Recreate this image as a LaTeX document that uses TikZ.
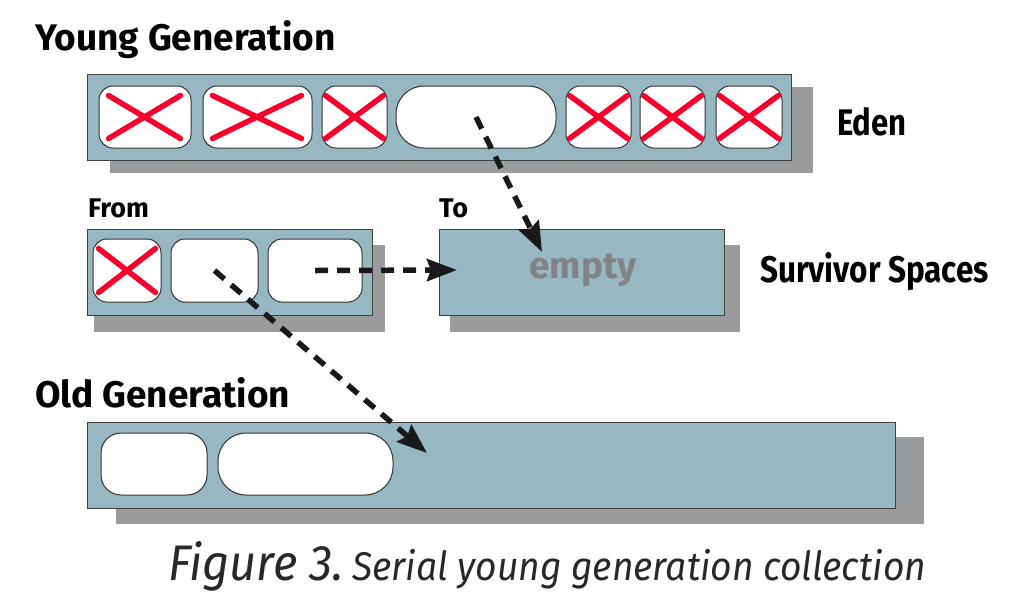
\documentclass[tikz,border=0pt]{standalone}
\usepackage{fontspec}
\setmainfont{Fira Sans}
\usepackage{tikz}
\usetikzlibrary{arrows.meta}
\definecolor{boxblue}{RGB}{151,183,194}
\definecolor{shadowgray}{RGB}{153,155,156}
\definecolor{crossred}{RGB}{250,0,45}
\definecolor{arrowblack}{RGB}{25,25,25}
\definecolor{emptygray}{RGB}{130,130,130}
\definecolor{captiongray}{RGB}{40,40,40}

\begin{document}
\begin{tikzpicture}[x=1pt,y=-1pt,
    space/.style={draw=black!75,line width=1pt,fill=boxblue,inner sep=0pt},
    cell/.style={draw=black!80,line width=1pt,fill=white,inner sep=0pt,rounded corners=14pt,minimum height=62pt},
    kill/.style={draw=crossred,line width=5.5pt,line cap=round},
    move/.style={draw=arrowblack,line width=5.5pt,dash pattern=on 13pt off 9pt,-{Stealth[length=30pt,width=22pt,inset=4pt]}},
    title/.style={font=\fontsize{37}{40}\selectfont\bfseries,anchor=base west,inner sep=0pt}]
    \useasboundingbox (0,0) rectangle (1027,611);
    % shadows
    \fill[shadowgray] (110,87) rectangle (813,173);
    \fill[shadowgray] (94,245) rectangle (385,332);
    \fill[shadowgray] (450,245) rectangle (740,332);
    \fill[shadowgray] (116,437) rectangle (924,524);
    % spaces
    \node[space,minimum width=704pt,minimum height=86pt] (eden) at (439,117) {};
    \node[space,minimum width=285pt,minimum height=86pt] (from) at (229.5,272) {};
    \node[space,minimum width=285pt,minimum height=86pt] (to) at (581.5,272) {};
    \node[space,minimum width=808pt,minimum height=86pt] (old) at (491,465) {};
    % eden objects
    \node[cell,minimum width=92pt] (e1) at (145,117) {};
    \node[cell,minimum width=109pt] (e2) at (257.5,117) {};
    \node[cell,minimum width=65pt] (e3) at (354.5,117) {};
    \node[cell,minimum width=160pt,rounded corners=28pt] (e4) at (476,117) {};
    \node[cell,minimum width=65pt] (e5) at (598.5,117) {};
    \node[cell,minimum width=65pt] (e6) at (672.5,117) {};
    \node[cell,minimum width=66pt] (e7) at (749,117) {};
    % from objects
    \node[cell,minimum width=68pt,minimum height=63pt] (f1) at (127,270.5) {};
    \node[cell,minimum width=87pt,minimum height=63pt] (f2) at (214.5,270.5) {};
    \node[cell,minimum width=94pt,minimum height=63pt] (f3) at (315,270.5) {};
    % old objects
    \node[cell,minimum width=106pt,rounded corners=20pt] (o1) at (154,464) {};
    \node[cell,minimum width=175pt,rounded corners=28pt] (o2) at (305.5,464) {};
    % dead objects
    \draw[kill] ([shift={(10,10)}]e1.north west) -- ([shift={(-11,-10)}]e1.south east);
    \draw[kill] ([shift={(10,-10)}]e1.south west) -- ([shift={(-11,10)}]e1.north east);
    \draw[kill] ([shift={(10,10)}]e2.north west) -- ([shift={(-11,-10)}]e2.south east);
    \draw[kill] ([shift={(10,-10)}]e2.south west) -- ([shift={(-11,10)}]e2.north east);
    \draw[kill] ([shift={(4,10)}]e3.north west) -- ([shift={(-4,-10)}]e3.south east);
    \draw[kill] ([shift={(4,-10)}]e3.south west) -- ([shift={(-4,10)}]e3.north east);
    \draw[kill] ([shift={(4,10)}]e5.north west) -- ([shift={(-4,-10)}]e5.south east);
    \draw[kill] ([shift={(4,-10)}]e5.south west) -- ([shift={(-4,10)}]e5.north east);
    \draw[kill] ([shift={(4,10)}]e6.north west) -- ([shift={(-4,-10)}]e6.south east);
    \draw[kill] ([shift={(4,-10)}]e6.south west) -- ([shift={(-4,10)}]e6.north east);
    \draw[kill] ([shift={(4,10)}]e7.north west) -- ([shift={(-4,-10)}]e7.south east);
    \draw[kill] ([shift={(4,-10)}]e7.south west) -- ([shift={(-4,10)}]e7.north east);
    \draw[kill] ([shift={(6,10)}]f1.north west) -- ([shift={(-6,-10)}]f1.south east);
    \draw[kill] ([shift={(6,-10)}]f1.south west) -- ([shift={(-6,10)}]f1.north east);
    % copying
    \coordinate (toin) at (542,252);
    \coordinate (toleft) at (457,270);
    \coordinate (oldin) at (427,453);
    \draw[move] (e4.center) -- (toin);
    \draw[move] (f3.center) -- (toleft);
    \draw[move] (f2.center) -- (oldin);
    % labels
    \node[title] (young) at (35,50) {Young Generation};
    \node[title] (edenlbl) at (837,135) {\scalebox{0.84}[1]{Eden}};
    \node[title,font=\fontsize{27}{30}\selectfont\bfseries] (fromlbl) at (88,217) {From};
    \node[title,font=\fontsize{27}{30}\selectfont\bfseries] (tolbl) at (439,217) {To};
    \node[title] (survlbl) at (760,282) {\scalebox{0.85}[1]{Survivor Spaces}};
    \node[title] (oldlbl) at (35,407) {Old Generation};
    \node[font=\fontsize{37}{40}\selectfont\bfseries,text=emptygray,inner sep=0pt] (empty) at (583,270) {empty};
    \node[anchor=base west,inner sep=0pt,text=captiongray,font=\fontsize{50}{54}\selectfont\itshape] (fig) at (168,580) {\scalebox{0.94}[1]{Figure 3.}};
    \node[anchor=base west,inner sep=0pt,text=captiongray,font=\fontsize{40}{44}\selectfont\itshape] (caption) at (352,580) {\scalebox{0.93}[1]{Serial young generation collection}};
\end{tikzpicture}
\end{document}
